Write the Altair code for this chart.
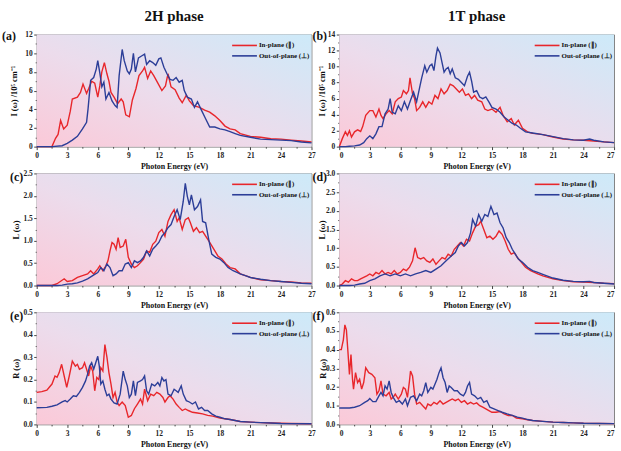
import altair as alt
import pandas as pd

RED = "#e8262b"
BLUE = "#2c3e98"
SERIES = ["In-plane (∥)", "Out-of-plane (⊥)"]
FONT = "Liberation Serif"

# ---------- (a) 2H absorption ----------
A_RED_E = [0, 1.5, 1.85, 2.1, 2.35, 2.65, 3.0, 3.3, 3.5, 4.0, 4.3, 4.55, 4.9, 5.1, 5.4, 5.7, 6.0, 6.2, 6.4, 6.65, 6.9, 7.1, 7.3, 7.6, 7.95, 8.3, 8.5, 8.75, 9.1, 9.4, 9.75, 10.05, 10.4, 10.6, 10.9, 11.2, 11.5, 11.85, 12.3, 12.65, 12.9, 13.2, 13.6, 14.0, 14.3, 14.7, 15.0, 15.4, 16.0, 16.5, 17.0, 17.5, 18.0, 18.5, 19.0, 19.5, 20, 21, 22, 23, 24, 25, 26, 27]
A_RED_V = [0, 0, 0.9, 1.3, 2.8, 1.9, 2.3, 3.8, 5.1, 5.3, 5.8, 6.7, 5.7, 6.2, 7.0, 6.8, 5.3, 6.5, 8.0, 9.0, 7.8, 7.0, 5.8, 5.3, 4.6, 5.1, 4.8, 3.4, 3.2, 5.0, 6.2, 7.6, 8.1, 8.5, 7.3, 8.1, 7.6, 6.9, 6.0, 6.5, 7.8, 6.4, 6.1, 5.2, 4.7, 5.5, 4.9, 4.4, 4.2, 3.9, 3.7, 3.3, 2.8, 2.2, 1.9, 1.8, 1.4, 1.1, 1.0, 0.85, 0.8, 0.7, 0.6, 0.5]
A_BLUE_E = [0, 1.5, 2.5, 3.0, 3.5, 4.0, 4.5, 4.9, 5.05, 5.3, 5.6, 5.85, 6.0, 6.2, 6.4, 6.6, 6.8, 7.1, 7.4, 7.7, 7.9, 8.1, 8.4, 8.6, 8.9, 9.1, 9.3, 9.5, 9.7, 10.0, 10.3, 10.6, 10.8, 11.1, 11.4, 11.7, 12.0, 12.2, 12.5, 12.8, 13.1, 13.4, 13.7, 14.0, 14.3, 14.5, 14.8, 15.2, 15.5, 15.8, 16.1, 16.5, 17.0, 17.5, 18.0, 18.5, 19.0, 19.5, 20, 21, 22, 23, 24, 25, 26, 27]
A_BLUE_V = [0, 0, 0.1, 0.35, 0.7, 1.1, 1.9, 2.6, 4.1, 7.1, 7.4, 8.3, 9.2, 7.9, 6.4, 6.9, 5.1, 5.8, 4.9, 4.4, 4.2, 7.6, 10.4, 9.2, 8.1, 7.8, 8.3, 10.0, 8.0, 9.5, 9.7, 9.9, 8.8, 9.2, 9.0, 8.7, 9.4, 9.5, 8.5, 7.8, 7.2, 7.1, 7.4, 6.9, 7.1, 6.0, 5.3, 5.1, 4.2, 4.8, 4.1, 3.2, 2.1, 2.1, 1.9, 1.8, 1.6, 1.4, 1.2, 1.0, 0.8, 0.75, 0.7, 0.65, 0.5, 0.4]

# ---------- (b) 1T absorption ----------
B_RED_E = [0, 0.3, 0.6, 0.8, 1.0, 1.2, 1.5, 1.8, 2.1, 2.3, 2.6, 3.0, 3.3, 3.6, 3.9, 4.1, 4.3, 4.6, 4.9, 5.2, 5.5, 5.8, 6.1, 6.3, 6.6, 6.8, 6.95, 7.2, 7.4, 7.6, 7.9, 8.2, 8.5, 8.8, 9.1, 9.4, 9.7, 10.0, 10.3, 10.6, 10.9, 11.2, 11.5, 11.8, 12.1, 12.4, 12.7, 13.0, 13.3, 13.6, 14.0, 14.3, 14.6, 15.0, 15.4, 15.8, 16.1, 16.5, 16.9, 17.2, 17.6, 18.0, 18.5, 19, 19.5, 20, 21, 22, 23, 24, 25, 26, 27]
B_RED_V = [0, 1.0, 1.85, 1.4, 2.0, 1.2, 1.85, 2.1, 1.9, 2.5, 3.9, 4.5, 4.5, 3.7, 4.7, 3.9, 3.5, 4.1, 4.5, 4.1, 5.6, 6.0, 6.2, 7.0, 6.6, 7.0, 8.6, 6.6, 6.0, 4.5, 4.9, 5.6, 4.9, 5.6, 5.3, 6.4, 6.0, 7.2, 6.6, 7.0, 7.8, 7.6, 7.2, 6.8, 7.2, 6.4, 6.6, 6.0, 6.4, 5.8, 5.6, 4.7, 4.5, 4.7, 4.3, 4.9, 3.9, 3.1, 3.5, 2.7, 3.3, 2.3, 1.85, 1.65, 1.6, 1.5, 1.2, 0.95, 0.85, 0.8, 0.7, 0.6, 0.5]
B_BLUE_E = [0, 0.6, 1.0, 1.5, 2.0, 2.4, 2.7, 3.0, 3.3, 3.6, 3.9, 4.2, 4.5, 4.8, 5.0, 5.2, 5.5, 5.8, 6.1, 6.4, 6.7, 7.0, 7.3, 7.6, 7.9, 8.1, 8.4, 8.6, 8.9, 9.1, 9.3, 9.5, 9.65, 9.9, 10.1, 10.3, 10.5, 10.7, 10.9, 11.1, 11.4, 11.7, 12.0, 12.3, 12.6, 12.8, 13.0, 13.2, 13.5, 13.8, 14.1, 14.4, 14.7, 15.0, 15.4, 15.8, 16.2, 16.6, 17.0, 17.4, 17.8, 18.3, 19, 20, 21, 22, 23, 24, 24.6, 25, 26, 27]
B_BLUE_V = [0, 0, 0.05, 0.1, 0.2, 0.5, 1.0, 1.35, 1.0, 1.6, 2.5, 2.5, 4.1, 4.7, 6.0, 4.3, 4.1, 5.1, 4.5, 5.6, 4.7, 5.8, 6.8, 5.6, 7.4, 8.6, 10.1, 9.3, 10.1, 10.3, 9.5, 11.3, 12.3, 11.7, 10.5, 9.3, 9.7, 9.9, 9.1, 9.7, 8.6, 8.4, 8.0, 7.6, 8.8, 9.3, 8.2, 6.8, 7.0, 6.2, 6.0, 6.2, 5.6, 4.9, 4.7, 4.3, 3.7, 3.3, 2.9, 2.7, 2.3, 1.85, 1.7, 1.5, 1.25, 1.0, 0.85, 0.8, 0.95, 0.8, 0.6, 0.5]

# ---------- (c) 2H loss ----------
C_RED_E = [0, 1.5, 2.0, 2.7, 3.0, 3.5, 4.0, 4.5, 5.0, 5.3, 5.6, 6.0, 6.2, 6.5, 6.8, 7.0, 7.2, 7.4, 7.6, 7.8, 8.0, 8.2, 8.5, 8.75, 9.0, 9.3, 9.6, 9.9, 10.2, 10.5, 10.8, 11.1, 11.4, 11.7, 12.0, 12.3, 12.6, 12.9, 13.2, 13.5, 13.8, 14.0, 14.3, 14.6, 14.9, 15.1, 15.4, 15.7, 16.0, 16.3, 16.6, 17.0, 17.4, 17.8, 18.2, 18.6, 19, 19.5, 20, 20.5, 21, 22, 23, 24, 25, 26, 27]
C_RED_V = [0, 0, 0.04, 0.15, 0.09, 0.11, 0.18, 0.22, 0.26, 0.33, 0.26, 0.37, 0.44, 0.33, 0.44, 0.55, 0.77, 0.96, 0.92, 0.81, 1.07, 0.85, 0.88, 1.03, 0.63, 0.48, 0.40, 0.44, 0.51, 0.59, 0.77, 0.74, 0.92, 0.99, 1.18, 1.25, 1.10, 1.43, 1.58, 1.69, 1.43, 1.51, 1.25, 1.47, 1.51, 1.40, 1.21, 1.29, 1.18, 1.21, 1.10, 0.96, 0.81, 0.66, 0.59, 0.48, 0.40, 0.37, 0.26, 0.22, 0.18, 0.13, 0.11, 0.09, 0.08, 0.06, 0.05]
C_BLUE_E = [0, 2.0, 2.5, 3.0, 3.5, 4.0, 4.5, 5.0, 5.5, 6.0, 6.3, 6.6, 6.9, 7.2, 7.5, 7.8, 8.1, 8.4, 8.7, 9.0, 9.3, 9.6, 9.9, 10.2, 10.5, 10.8, 11.1, 11.4, 11.7, 12.0, 12.3, 12.6, 12.9, 13.2, 13.5, 13.8, 14.1, 14.4, 14.6, 14.8, 15.0, 15.2, 15.5, 15.8, 16.1, 16.3, 16.6, 16.9, 17.2, 17.6, 18.0, 18.4, 18.8, 19.3, 20, 20.5, 21, 22, 23, 24, 25, 26, 27]
C_BLUE_V = [0, 0, 0.01, 0.03, 0.04, 0.06, 0.1, 0.15, 0.22, 0.29, 0.40, 0.33, 0.48, 0.40, 0.22, 0.26, 0.33, 0.33, 0.48, 0.51, 0.40, 0.55, 0.51, 0.55, 0.63, 0.77, 0.66, 0.81, 0.88, 0.96, 1.10, 1.18, 1.29, 1.36, 1.54, 1.69, 1.47, 1.88, 2.28, 1.99, 1.80, 2.02, 1.69, 1.76, 1.91, 1.43, 1.40, 1.03, 0.70, 0.63, 0.59, 0.51, 0.40, 0.33, 0.26, 0.22, 0.18, 0.14, 0.11, 0.09, 0.07, 0.05, 0.04]

# ---------- (d) 1T loss ----------
D_RED_E = [0, 0.3, 0.6, 0.9, 1.2, 1.5, 1.8, 2.1, 2.4, 2.7, 3.0, 3.3, 3.6, 3.9, 4.2, 4.5, 4.8, 5.1, 5.4, 5.7, 6.0, 6.3, 6.6, 6.9, 7.2, 7.45, 7.7, 8.0, 8.3, 8.6, 8.9, 9.2, 9.5, 9.8, 10.1, 10.4, 10.7, 11.0, 11.3, 11.6, 11.9, 12.2, 12.5, 12.8, 13.1, 13.4, 13.7, 13.9, 14.2, 14.5, 14.8, 15.1, 15.4, 15.7, 16.0, 16.3, 16.6, 16.9, 17.2, 17.5, 17.9, 18.3, 18.8, 19.5, 20, 21, 22, 23, 24, 25, 26, 27]
D_RED_V = [0, 0.04, 0.13, 0.09, 0.18, 0.13, 0.13, 0.18, 0.22, 0.26, 0.31, 0.26, 0.35, 0.31, 0.40, 0.31, 0.35, 0.31, 0.40, 0.31, 0.35, 0.44, 0.40, 0.49, 0.66, 1.01, 0.75, 0.71, 0.75, 0.66, 0.62, 0.71, 0.57, 0.66, 0.75, 0.71, 0.84, 0.79, 0.97, 1.06, 1.15, 1.06, 1.24, 1.19, 1.41, 1.59, 1.63, 1.72, 1.50, 1.28, 1.32, 1.24, 1.32, 1.46, 1.37, 1.19, 0.97, 0.84, 0.88, 0.75, 0.62, 0.49, 0.40, 0.31, 0.26, 0.18, 0.13, 0.10, 0.09, 0.08, 0.06, 0.05]
D_BLUE_E = [0, 1.0, 1.5, 2.0, 2.5, 3.0, 3.5, 4.0, 4.5, 5.0, 5.5, 6.0, 6.5, 7.0, 7.5, 8.0, 8.5, 9.0, 9.5, 10.0, 10.5, 11.0, 11.4, 11.7, 12.0, 12.3, 12.6, 12.9, 13.1, 13.4, 13.7, 14.0, 14.3, 14.6, 14.9, 15.2, 15.5, 15.8, 16.1, 16.4, 16.7, 17.0, 17.3, 17.6, 18.0, 18.5, 19, 19.5, 20, 21, 22, 23, 24, 24.6, 25, 26, 27]
D_BLUE_V = [0, 0, 0.01, 0.04, 0.06, 0.13, 0.18, 0.26, 0.31, 0.26, 0.31, 0.26, 0.31, 0.26, 0.31, 0.35, 0.40, 0.35, 0.44, 0.53, 0.66, 0.79, 0.88, 1.06, 1.15, 1.06, 1.15, 1.41, 1.77, 1.59, 1.90, 1.72, 1.90, 1.85, 2.12, 1.90, 1.94, 1.68, 1.54, 1.28, 1.15, 0.97, 0.84, 0.71, 0.62, 0.49, 0.40, 0.35, 0.30, 0.20, 0.14, 0.11, 0.10, 0.11, 0.08, 0.06, 0.04]

# ---------- (e) 2H reflectivity ----------
E_RED_E = [0, 0.5, 1.0, 1.5, 1.8, 2.0, 2.2, 2.45, 2.7, 2.95, 3.2, 3.5, 3.8, 4.0, 4.2, 4.5, 4.7, 4.9, 5.1, 5.3, 5.5, 5.7, 5.9, 6.1, 6.3, 6.5, 6.7, 6.9, 7.1, 7.3, 7.5, 7.7, 7.9, 8.1, 8.4, 8.7, 9.0, 9.3, 9.6, 9.9, 10.2, 10.4, 10.6, 10.9, 11.2, 11.5, 11.8, 12.1, 12.4, 12.6, 12.9, 13.1, 13.4, 13.7, 14.0, 14.3, 14.6, 14.9, 15.3, 15.8, 16.3, 16.8, 17.3, 18, 18.5, 19, 20, 21, 22, 23, 24, 25, 27]
E_RED_V = [0.143, 0.146, 0.153, 0.18, 0.216, 0.21, 0.23, 0.268, 0.216, 0.165, 0.216, 0.282, 0.26, 0.268, 0.246, 0.253, 0.275, 0.246, 0.216, 0.26, 0.238, 0.15, 0.209, 0.2, 0.253, 0.238, 0.356, 0.30, 0.23, 0.18, 0.12, 0.143, 0.1, 0.084, 0.1, 0.084, 0.032, 0.04, 0.07, 0.091, 0.113, 0.091, 0.157, 0.106, 0.135, 0.128, 0.143, 0.135, 0.12, 0.1, 0.12, 0.128, 0.113, 0.091, 0.076, 0.062, 0.069, 0.062, 0.054, 0.051, 0.047, 0.04, 0.037, 0.028, 0.025, 0.022, 0.013, 0.01, 0.008, 0.006, 0.005, 0.004, 0.003]
E_BLUE_E = [0, 1.0, 1.5, 2.0, 2.5, 2.8, 3.0, 3.3, 3.6, 3.9, 4.2, 4.5, 4.8, 5.0, 5.2, 5.4, 5.6, 5.8, 6.0, 6.15, 6.3, 6.5, 6.7, 6.9, 7.1, 7.3, 7.6, 7.9, 8.2, 8.5, 8.7, 8.9, 9.1, 9.3, 9.5, 9.7, 9.9, 10.2, 10.4, 10.6, 10.8, 11.0, 11.3, 11.6, 11.9, 12.1, 12.3, 12.5, 12.7, 12.9, 13.2, 13.5, 13.7, 13.9, 14.2, 14.4, 14.7, 15.0, 15.3, 15.6, 15.9, 16.2, 16.5, 16.8, 17.2, 17.6, 18, 18.5, 19, 20, 21, 22, 23, 24, 27]
E_BLUE_V = [0.074, 0.076, 0.081, 0.087, 0.1, 0.106, 0.1, 0.113, 0.128, 0.125, 0.143, 0.165, 0.194, 0.224, 0.26, 0.275, 0.246, 0.275, 0.304, 0.26, 0.18, 0.194, 0.157, 0.128, 0.135, 0.113, 0.096, 0.091, 0.135, 0.238, 0.2, 0.172, 0.12, 0.135, 0.194, 0.128, 0.187, 0.194, 0.2, 0.216, 0.15, 0.135, 0.18, 0.172, 0.187, 0.172, 0.209, 0.194, 0.2, 0.135, 0.128, 0.157, 0.15, 0.143, 0.172, 0.135, 0.106, 0.1, 0.091, 0.1, 0.069, 0.076, 0.062, 0.062, 0.047, 0.037, 0.032, 0.025, 0.022, 0.013, 0.01, 0.008, 0.006, 0.004, 0.003]

# ---------- (f) 1T reflectivity ----------
F_RED_E = [0, 0.2, 0.4, 0.55, 0.7, 0.85, 1.0, 1.15, 1.3, 1.4, 1.6, 1.8, 2.0, 2.2, 2.4, 2.6, 2.9, 3.2, 3.5, 3.7, 3.9, 4.1, 4.3, 4.6, 4.9, 5.1, 5.3, 5.5, 5.8, 6.1, 6.3, 6.5, 6.7, 6.9, 7.0, 7.2, 7.4, 7.6, 7.9, 8.2, 8.5, 8.7, 9.0, 9.3, 9.6, 9.9, 10.2, 10.5, 10.8, 11.1, 11.4, 11.7, 12.0, 12.3, 12.6, 12.9, 13.2, 13.5, 13.8, 14.1, 14.4, 14.7, 15.0, 15.4, 15.8, 16.2, 16.6, 17.0, 17.4, 18, 18.5, 19, 20, 21, 22, 23, 24, 27]
F_RED_V = [0.40, 0.40, 0.453, 0.533, 0.506, 0.39, 0.268, 0.374, 0.242, 0.189, 0.277, 0.224, 0.242, 0.189, 0.224, 0.303, 0.277, 0.268, 0.25, 0.162, 0.18, 0.233, 0.162, 0.153, 0.171, 0.136, 0.145, 0.162, 0.136, 0.162, 0.198, 0.189, 0.145, 0.233, 0.286, 0.259, 0.162, 0.109, 0.118, 0.1, 0.083, 0.109, 0.1, 0.118, 0.109, 0.127, 0.109, 0.118, 0.127, 0.136, 0.127, 0.136, 0.118, 0.127, 0.109, 0.118, 0.109, 0.115, 0.1, 0.092, 0.083, 0.074, 0.065, 0.065, 0.069, 0.056, 0.048, 0.048, 0.034, 0.03, 0.025, 0.021, 0.016, 0.012, 0.01, 0.008, 0.006, 0.004]
F_BLUE_E = [0, 1.0, 1.5, 2.0, 2.5, 2.8, 3.0, 3.3, 3.6, 3.9, 4.1, 4.3, 4.5, 4.7, 4.9, 5.1, 5.3, 5.6, 5.9, 6.2, 6.5, 6.7, 7.0, 7.3, 7.6, 7.9, 8.1, 8.3, 8.5, 8.7, 9.0, 9.2, 9.4, 9.6, 9.8, 10.0, 10.2, 10.4, 10.6, 10.8, 11.0, 11.3, 11.6, 11.9, 12.2, 12.4, 12.6, 12.8, 13.0, 13.3, 13.6, 13.9, 14.2, 14.5, 14.8, 15.2, 15.6, 16.0, 16.5, 17.0, 17.5, 18, 18.5, 19, 20, 21, 22, 23, 24, 27]
F_BLUE_V = [0.088, 0.088, 0.092, 0.1, 0.118, 0.127, 0.139, 0.122, 0.122, 0.153, 0.171, 0.153, 0.206, 0.189, 0.233, 0.171, 0.145, 0.118, 0.127, 0.109, 0.136, 0.1, 0.145, 0.153, 0.127, 0.162, 0.153, 0.18, 0.224, 0.171, 0.198, 0.189, 0.215, 0.242, 0.277, 0.303, 0.25, 0.224, 0.171, 0.206, 0.198, 0.18, 0.18, 0.162, 0.153, 0.171, 0.206, 0.224, 0.162, 0.153, 0.136, 0.145, 0.118, 0.127, 0.092, 0.083, 0.074, 0.065, 0.056, 0.048, 0.039, 0.034, 0.026, 0.021, 0.016, 0.012, 0.01, 0.008, 0.006, 0.004]

W, H = 277, 113
DUMMY = pd.DataFrame({"d": [0]})

BG = alt.LinearGradient(
    gradient="linear",
    stops=[
        alt.GradientStop(color="#fbc9d8", offset=0),
        alt.GradientStop(color="#ecdcec", offset=0.45),
        alt.GradientStop(color="#cdeaf9", offset=1),
    ],
    x1=0, y1=1, x2=1, y2=0,
)


def major_test(step):
    return f"abs(datum.value/{step} - round(datum.value/{step})) < 0.001"


def panel(letter, red_e, red_v, blue_e, blue_v, ymax, ystep, yfmt, ytitle,
          title=None, right=False, letter_x=-26, letter_y=3, ytitle_x=-21):
    df = pd.concat([
        pd.DataFrame({"E": red_e, "V": red_v, "S": SERIES[0]}),
        pd.DataFrame({"E": blue_e, "V": blue_v, "S": SERIES[1]}),
    ])
    nmin = int(round(ymax / (ystep / 2)))
    yvals = [round(i * ystep / 2, 4) for i in range(nmin + 1)]
    xvals = [i * 1.5 for i in range(19)]
    yt = major_test(ystep)
    xt = major_test(3)

    xaxis = alt.Axis(
        values=xvals, title="Photon Energy (eV)", grid=False, domain=False,
        labelExpr=f"({xt}) ? datum.label : ''", format="d",
        tickSize={"condition": {"test": xt, "value": 3}, "value": 1.5},
        tickColor="#444", labelFont=FONT, labelFontWeight="bold", labelFontSize=7.5,
        labelColor="#222", labelPadding=2, titleFont=FONT, titleFontWeight="bold",
        titleFontSize=8, titleColor="#111", titleY=20, titleBaseline="middle",
        labelFlush=right,
    )
    yaxis = alt.Axis(
        values=yvals, title=ytitle, grid=False, domain=False, format=yfmt,
        labelExpr=f"({yt}) ? datum.label : ''",
        tickSize={"condition": {"test": yt, "value": 3}, "value": 1.5},
        tickColor="#444", labelFont=FONT, labelFontWeight="bold", labelFontSize=7.5,
        labelColor="#222", labelPadding=1.5, titleFont=FONT, titleFontWeight="bold",
        titleFontSize=8.5, titleColor="#111", titleX=ytitle_x, titleY=H / 2,
        titleBaseline="middle", titleAngle=270, titleAlign="center",
    )

    bg = alt.Chart(DUMMY).mark_rect(fill=BG).encode(
        x=alt.value(0), x2=alt.value(W), y=alt.value(0), y2=alt.value(H)
    )
    lines = alt.Chart(df).mark_line(strokeWidth=1.4, interpolate="linear").encode(
        x=alt.X("E:Q", scale=alt.Scale(domain=[0, 27], nice=False, zero=False), axis=xaxis),
        y=alt.Y("V:Q", scale=alt.Scale(domain=[0, ymax], nice=False), axis=yaxis),
        color=alt.Color("S:N", scale=alt.Scale(domain=SERIES, range=[RED, BLUE]), legend=None),
        order=alt.Order("E:Q"),
    )
    layers = [bg, lines]
    for i, (name, col) in enumerate(zip(SERIES, [RED, BLUE])):
        yy = 11 + 10.5 * i
        layers.append(alt.Chart(DUMMY).mark_rule(color=col, strokeWidth=1.6).encode(
            x=alt.value(197), x2=alt.value(222), y=alt.value(yy)))
        layers.append(alt.Chart(DUMMY).mark_text(
            text=name, align="left", baseline="middle", font=FONT, fontWeight="bold",
            fontSize=7, color="#111").encode(x=alt.value(224), y=alt.value(yy)))
    layers.append(alt.Chart(DUMMY).mark_text(
        text=f"({letter})", align="left", baseline="middle", font=FONT, fontWeight="bold",
        fontSize=12, color="#111").encode(x=alt.value(letter_x), y=alt.value(letter_y)))

    props = dict(width=W, height=H)
    if title:
        props["title"] = alt.TitleParams(title, font=FONT, fontSize=15, fontWeight="bold",
                                         anchor="middle", color="#111", offset=6)
    return alt.layer(*layers).properties(**props)


TI = "I (ω) /10⁵ cm⁻¹"
a = panel("a", A_RED_E, A_RED_V, A_BLUE_E, A_BLUE_V, 12, 2, "d", TI, title="2H phase",
          letter_x=-35, letter_y=1, ytitle_x=-23)
b = panel("b", B_RED_E, B_RED_V, B_BLUE_E, B_BLUE_V, 14, 2, "d", TI, title="1T phase",
          right=True, letter_x=-27, letter_y=1, ytitle_x=-18)
c = panel("c", C_RED_E, C_RED_V, C_BLUE_E, C_BLUE_V, 2.5, 0.5, ".1f", "L (ω)",
          letter_x=-27, letter_y=4, ytitle_x=-21)
d = panel("d", D_RED_E, D_RED_V, D_BLUE_E, D_BLUE_V, 3.0, 0.5, ".1f", "L (ω)",
          right=True, letter_x=-27, letter_y=4, ytitle_x=-18)
e = panel("e", E_RED_E, E_RED_V, E_BLUE_E, E_BLUE_V, 0.5, 0.1, ".1f", "R (ω)",
          letter_x=-27, letter_y=4, ytitle_x=-21)
f = panel("f", F_RED_E, F_RED_V, F_BLUE_E, F_BLUE_V, 0.6, 0.1, ".1f", "R (ω)",
          right=True, letter_x=-27, letter_y=4, ytitle_x=-17)

chart = alt.concat(a, b, c, d, e, f, columns=2, spacing={"row": 27, "column": 28},
                   bounds="flush").properties(
    padding={"left": 1, "right": 3, "top": 6, "bottom": 2},
    background="white",
).configure_view(stroke="#666", strokeWidth=0.9)

chart.save("out.html", embed_options={"renderer": "svg", "actions": False})
